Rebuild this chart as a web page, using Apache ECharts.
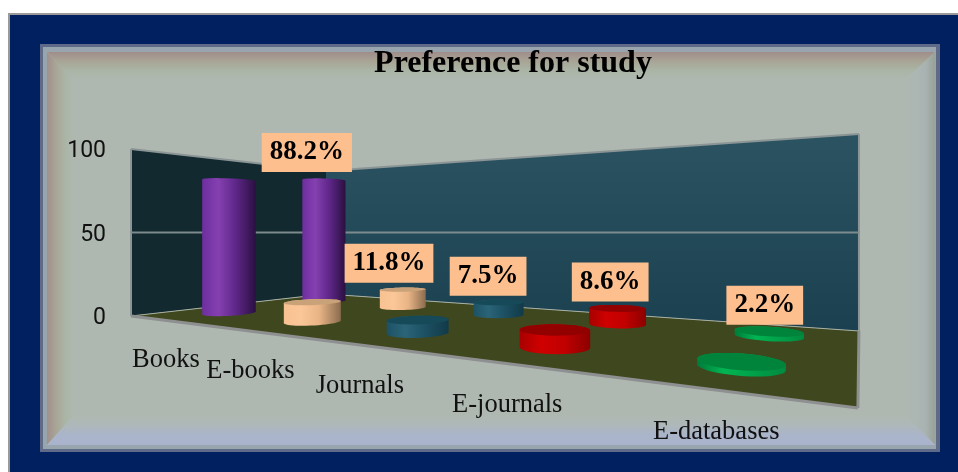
<!DOCTYPE html>
<html>
<head>
<meta charset="utf-8">
<style>html,body{margin:0;padding:0;background:#fff}#c{width:958px;height:472px}</style>
<script src="https://cdn.jsdelivr.net/npm/echarts@6/dist/echarts.min.js"></script>
</head>
<body>
<div id="c"></div>
<script>
var titleText = 'Preference for study';
var categories = ['Books', 'E-books', 'Journals', 'E-journals', 'E-databases'];
var frontValues = [82.5, 11, 6.4, 7.6, 2];
var backValues = [88.2, 11.8, 7.5, 8.6, 2.2];
var tickInterval = 50;

var palette = [
  {stops: ['#6d2e9e', '#8540b0', '#5f278a', '#2b1040'], top: '#6a2f98'},
  {stops: ['#f7c191', '#fcc798', '#e8b486', '#8a6c4e'], top: '#c9a27a'},
  {stops: ['#1d5265', '#2b6478', '#1c5062', '#123a48'], top: '#164a59'},
  {stops: ['#a80000', '#cf0000', '#c20000', '#8c0000'], top: '#930000'},
  {stops: ['#007a3a', '#00b552', '#00a24a', '#008a40'], top: '#00843c'}
];

// floor plane: perspective mapping of the unit square (u along categories, v in depth)
var P = {a: 264.5, b: 314, c: 131, d: -127.9, e: 85.3, f: 316, g: -0.539, h: 0.365};
function floor(u, v) {
  var w = P.g * u + P.h * v + 1;
  return [(P.a * u + P.b * v + P.c) / w, (P.d * u + P.e * v + P.f) / w];
}
// a height on the axis, scaled for how far away the floor point is
function lift(api, pt, value) {
  var y0 = api.coord([0, 0])[1], ym = api.coord([0, 50])[1];
  var k = (pt[1] - ym) / (y0 - ym);
  return [pt[0], pt[1] - api.size([0, value])[1] * k];
}
function uOf(params, api, i) {
  var cs = params.coordSys;
  return (api.coord([i, 0])[0] - cs.x) / cs.width;
}
function hull(points) {
  var p = points.slice().sort(function (m, n) { return m[0] - n[0] || m[1] - n[1]; });
  function cross(o, m, n) { return (m[0] - o[0]) * (n[1] - o[1]) - (m[1] - o[1]) * (n[0] - o[0]); }
  var lo = [], up = [], i;
  for (i = 0; i < p.length; i++) {
    while (lo.length > 1 && cross(lo[lo.length - 2], lo[lo.length - 1], p[i]) <= 0) lo.pop();
    lo.push(p[i]);
  }
  for (i = p.length - 1; i >= 0; i--) {
    while (up.length > 1 && cross(up[up.length - 2], up[up.length - 1], p[i]) <= 0) up.pop();
    up.push(p[i]);
  }
  return lo.slice(0, -1).concat(up.slice(0, -1));
}
function cylinder(depth) {
  return function (params, api) {
    var i = api.value(0), val = api.value(1), u = uOf(params, api, i);
    var base = [], top = [], n = 48;
    for (var t = 0; t < n; t++) {
      var a = t / n * Math.PI * 2;
      var q = floor(u + 0.04 * Math.cos(a), depth + 0.1 * Math.sin(a));
      q[0] += 2;
      base.push(q);
      top.push(lift(api, q, val));
    }
    var c = palette[i], children = [{
      type: 'polygon',
      shape: {points: hull(base.concat(top))},
      style: {fill: new echarts.graphic.LinearGradient(0, 0, 1, 0, [
        {offset: 0, color: c.stops[0]}, {offset: 0.3, color: c.stops[1]},
        {offset: 0.62, color: c.stops[2]}, {offset: 1, color: c.stops[3]}
      ])}
    }];
    if (val < 50) children.push({type: 'polygon', shape: {points: top}, style: {fill: c.top}});
    return {type: 'group', children: children};
  };
}
function walls(params, api) {
  var A = floor(0, 0), B = floor(1, 0), C = floor(1, 1), D = floor(0, 1);
  var At = lift(api, A, 100), Ct = lift(api, C, 100), Dt = lift(api, D, 100);
  var edge = {stroke: '#8b9596', lineWidth: 2};
  var grid = {stroke: '#7d8b8d', lineWidth: 2};
  function line(p, q, s) { return {type: 'line', shape: {x1: p[0], y1: p[1], x2: q[0], y2: q[1]}, style: s}; }
  var kids = [
    {type: 'polygon', shape: {points: [A, At, Dt, D]}, style: {fill: '#11292f'}},
    {type: 'polygon', shape: {points: [D, Dt, Ct, C]}, style: {
      fill: new echarts.graphic.LinearGradient(0, 0, 0, 1, [
        {offset: 0, color: '#2c5361'}, {offset: 1, color: '#1b4150'}
      ])}},
    {type: 'polygon', shape: {points: [A, B, C, D]}, style: {fill: '#3f471e'}},
    line(At, Dt, edge), line(Dt, Ct, edge), line(At, A, edge), line(Ct, C, edge),
    line(A, D, {stroke: '#a9b1a6', lineWidth: 1}), line(D, C, {stroke: '#a9b1a6', lineWidth: 1}),
    line(A, B, {stroke: '#8d8f90', lineWidth: 3}), line(B, C, {stroke: '#8d8f90', lineWidth: 3})
  ];
  for (var v = tickInterval; v < 100; v += tickInterval) {
    kids.push(line(lift(api, A, v), lift(api, D, v), grid));
    kids.push(line(lift(api, D, v), lift(api, C, v), grid));
  }
  return {type: 'group', children: kids};
}
function valueLabel(params, api) {
  var i = api.value(0), val = api.value(1), u = uOf(params, api, i);
  var p = lift(api, floor(u, 0.75), val);
  return {
    type: 'text',
    x: p[0] - 17 + 16.9 * u, y: p[1] - 26 - val * 0.02,
    style: {
      text: val.toFixed(1) + '%', align: 'center', verticalAlign: 'middle',
      font: 'bold 27px "Liberation Serif"', fill: '#000', lineHeight: 27,
      backgroundColor: '#fdbf8e', padding: [6, 8]
    }
  };
}
function categoryLabel(params, api) {
  var i = api.value(0), u = uOf(params, api, i), p = floor(u, 0);
  return {
    type: 'text', x: p[0] - 0.5, y: p[1] + 39 + 3.5 * u,
    style: {text: categories[i], align: 'center', verticalAlign: 'middle',
      font: '26.5px "Liberation Serif"', fill: '#111'}
  };
}
function pairs(values) { return values.map(function (v, i) { return [i, v]; }); }
var LG = echarts.graphic.LinearGradient;
function stops(list) { return list.map(function (c, i) { return {offset: i / (list.length - 1), color: c}; }); }

var chart = echarts.init(document.getElementById('c'), null, {renderer: 'canvas'});
chart.setOption({
  animation: false,
  backgroundColor: '#ffffff',
  title: {
    text: titleText, left: 508, top: 43, textAlign: 'center',
    textStyle: {fontFamily: 'Liberation Serif', fontWeight: 'bold', fontSize: 32, color: '#000'}
  },
  graphic: [
    {type: 'rect', z: -10, shape: {x: 9, y: 14, width: 960, height: 470}, style: {fill: '#002060', stroke: '#9a9a9a', lineWidth: 2}},
    {type: 'rect', z: -9, shape: {x: 40, y: 44, width: 900, height: 408}, style: {fill: '#5f6a88'}},
    {type: 'rect', z: -9, shape: {x: 43, y: 47, width: 893, height: 402}, style: {fill: '#98a5ae'}},
    {type: 'rect', z: -8, shape: {x: 47, y: 52, width: 888, height: 393}, style: {fill: '#afb8b0'}},
    {type: 'polygon', z: -7, shape: {points: [[47, 52], [935, 52], [905, 80], [74, 80]]},
      style: {fill: new LG(0, 0, 0, 1, stops(['#a08d8b', '#a8a595', '#aab5a6', '#afb8b0']))}},
    {type: 'polygon', z: -7, shape: {points: [[47, 52], [74, 80], [74, 415], [47, 445]]},
      style: {fill: new LG(0, 0, 1, 0, stops(['#a08f8c', '#a8a596', '#aab5a6', '#afb8b0']))}},
    {type: 'polygon', z: -7, shape: {points: [[935, 52], [905, 80], [905, 415], [935, 445]]},
      style: {fill: new LG(0, 0, 1, 0, stops(['#afb8b0', '#acb6b2', '#a9b3b2', '#98a298']))}},
    {type: 'polygon', z: -7, shape: {points: [[47, 445], [74, 415], [905, 415], [935, 445]]},
      style: {fill: new LG(0, 0, 0, 1, stops(['#afb8b0', '#aeb8ba', '#aab4ca', '#a9b3cc']))}}
  ],
  grid: {left: 131, top: 149, width: 727, height: 167, containLabel: false},
  xAxis: {type: 'category', data: categories, show: false},
  yAxis: {
    type: 'value', min: 0, max: 100, interval: tickInterval,
    axisLine: {show: false}, axisTick: {show: false}, splitLine: {show: false},
    axisLabel: {
      margin: 25, formatter: '{t|{value}}',
      rich: {t: {fontFamily: 'Roboto', fontSize: 23, color: '#111', padding: [5, 0, 0, 0]}}
    }
  },
  series: [
    {type: 'custom', name: 'walls', z: 1, silent: true, clip: false, renderItem: walls, data: [[0, 0]]},
    {type: 'custom', name: 'back', z: 2, clip: false, renderItem: cylinder(0.75), data: pairs(backValues)},
    {type: 'custom', name: 'front', z: 3, clip: false, renderItem: cylinder(0.25), data: pairs(frontValues)},
    {type: 'custom', name: 'labels', z: 4, clip: false, renderItem: valueLabel, data: pairs(backValues)},
    {type: 'custom', name: 'categories', z: 4, clip: false, renderItem: categoryLabel, data: pairs(categories.map(function () { return 0; }))}
  ]
});
</script>
</body>
</html>
